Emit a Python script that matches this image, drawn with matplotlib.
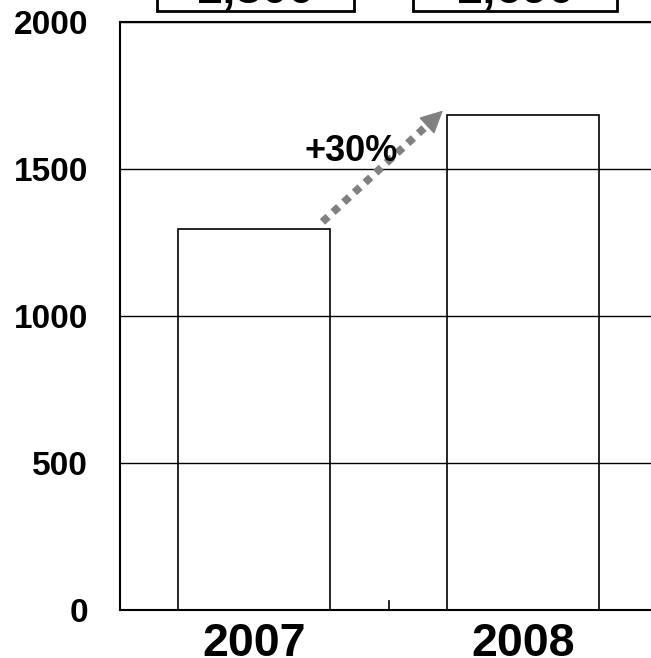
import matplotlib.pyplot as plt
from matplotlib.patches import Rectangle

plt.rcParams['font.family'] = ['Liberation Sans', 'DejaVu Sans']
plt.rcParams['font.weight'] = 'bold'

years = ['2007', '2008']
sales = [1295, 1685]
box_labels = ['1,300', '1,690']
growth_label = '+30%'
y_ticks = [0, 500, 1000, 1500, 2000]

fig = plt.figure(figsize=(6.51, 6.58), dpi=100)
# axes runs a bit past the right edge, like the original crop
ax = fig.add_axes([120 / 651, 1 - 610 / 658, 537 / 651, 588 / 658])

x = list(range(len(years)))
ax.bar(x, sales, width=0.567, color='white', edgecolor='black', linewidth=1.2, zorder=1)

ax.set_xlim(-0.5, 1.5)
ax.set_ylim(0, 2000)
ax.set_yticks(y_ticks)
ax.set_yticklabels([str(v) for v in y_ticks], fontsize=24, fontweight='bold')
ax.tick_params(axis='y', length=0, pad=23)
ax.grid(axis='y', color='black', linewidth=1, zorder=2)
ax.set_axisbelow(False)

ax.set_xticks(x)
ax.set_xticklabels(years, fontsize=33.5, fontweight='bold')
ax.tick_params(axis='x', length=0, pad=9)
# small inward tick between the categories
ax.plot([0.5, 0.5], [0, 30], color='black', linewidth=1.2, clip_on=False, zorder=4)

ax.spines['right'].set_visible(False)
for side in ['left', 'bottom', 'top']:
    ax.spines[side].set_linewidth(1.5)

# dotted growth arrow
x0, y0 = 0.254, 1320
x1, y1 = 0.675, 1675
ax.plot([x0, x1], [y0, y1], color='#808080', linewidth=5.5, linestyle=(0, (1, 0.9)),
        dash_capstyle='butt', zorder=5)
ax.annotate('', xy=(0.71, 1705), xytext=(x1 - 0.02, y1 - 17),
            arrowprops=dict(arrowstyle='-|>', color='#808080', lw=1,
                            mutation_scale=36), zorder=5)
ax.text(0.36, 1527, growth_label, fontsize=26, fontweight='bold',
        ha='center', va='baseline', zorder=6)

# value boxes at the top, mostly cut off by the image edge
boxes = [(157, 354), (413, 617)]
for (l, r), lab in zip(boxes, box_labels):
    fig.patches.append(Rectangle((l / 651, 1 - 11 / 658), (r - l) / 651, 60 / 658,
                                 transform=fig.transFigure, facecolor='white',
                                 edgecolor='black', linewidth=2))
    fig.text((l + r) / 2 / 651, 1 - 3 / 658, lab, fontsize=34, fontweight='bold',
             ha='center', va='baseline')

fig.savefig('out.png', dpi=100)
